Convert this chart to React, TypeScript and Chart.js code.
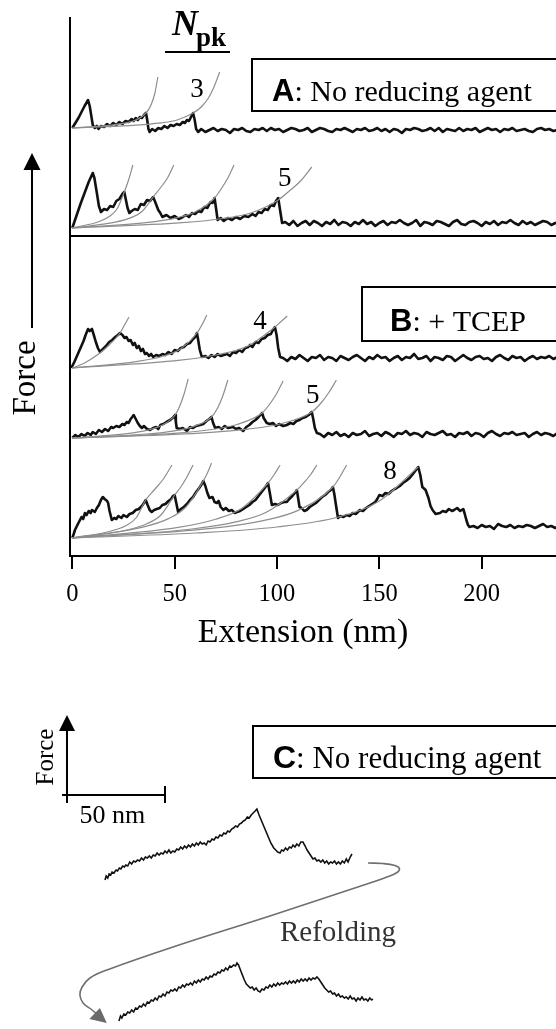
import React, { useEffect, useRef } from "react";
import { Chart, registerables } from "chart.js";
Chart.register(...registerables);

const SERIF = "'Liberation Serif', 'Times New Roman', serif";
const SANS = "'Liberation Sans', Arial, sans-serif";

// ---------- main panel axis ----------
const X_TICKS = [0, 50, 100, 150, 200];
const X_MIN = -1.12;
const X_MAX = 236.3;
const Y_MIN = 0;
const Y_MAX = 538;
const SEPARATOR_Y = 320;
const TAIL_STEP = 2;

// vertical offsets of each stacked trace (force baseline)
const OFFSET_A1 = 428;
const OFFSET_A2 = 328;
const OFFSET_B1 = 188;
const OFFSET_B2 = 118;
const OFFSET_B3 = 18;

// ---------- traces: [extension nm, force] ----------
const A1_MAIN = [[0,0],[1.5,5],[3,10],[4.5,16],[6,22],[7.7,28],[8.5,22],[9.3,12],[10,3],[11,0],[12,2],[12.8,-1],[14,2],[15.5,1],[17,4],[18.5,2],[20,5],[21.5,3],[23,6],[24.5,4],[26,7],[27.5,6],[29,9],[30,7],[31,10],[32,8],[33,11],[34,10],[35,13],[36,15],[36.6,8],[37.2,-1],[37.8,-4],[39,-1],[40.5,-3],[42,0],[43.5,-1],[45,2],[46.5,0],[48,3],[49.5,2],[51,4],[52.5,3],[54,6],[55,5],[56,8],[57,7],[58,11],[59,15],[59.8,8],[60.5,-1],[61.5,-4]];
const A1_TAIL_START = 63;
const A1_TAIL = [-1,-4,-2,0,-3,-1,-2,-5,-1,-2,0,-3,-4,-1,-2,0,-3,0,-2,-1,-4,-2,0,-1,-3,-2,0,-4,-2,0,-1,-3,-4,-1,-2,0,-2,-4,-1,-2,0,-3,-2,0,-3,-1,-4,-1,-2,-5,-1,-2,0,-1,-3,-2,0,-3,0,-4,-1,-2,-3,0,-3,-1,-2,0,-4,-2,0,-2,-1,-4,-1,-2,0,-3,-2,-1,-3,-4,-1,0,-2,-1,-3,-2,-1,-2];

const A2_MAIN = [[0,0],[2,12],[4,24],[6,35],[8,46],[10,55],[10.8,50],[12,35],[13,22],[14,16],[15.5,19],[17,18],[18.5,22],[20,21],[21.5,27],[23,29],[24.5,34],[25.4,36],[26,30],[27,20],[27.9,15],[29,17],[30.5,19],[32,18],[33.5,24],[35,23],[36.5,28],[38,27],[39.5,31],[40.5,26],[42,18],[43,15],[44,11],[46,13],[48,10],[50,12],[52,9],[54,11],[55.5,13],[57,11],[58.5,15],[60,14],[61.5,17],[63,16],[64.5,21],[66,20],[67.5,26],[68.5,25],[69.5,30],[70.2,20],[71,8],[72.5,10],[74,7],[76,10],[78,8],[80,11],[82,9],[84,12],[86,11],[88,14],[89.5,12],[91,16],[92.5,15],[94,19],[95.5,18],[97,23],[98.5,22],[99.5,27],[100.6,30],[101.5,18],[102.5,5]];
const A2_TAIL_START = 104;
const A2_TAIL = [6,3,7,2,5,7,3,7,5,2,6,4,8,3,6,5,2,6,4,8,4,6,2,5,7,3,6,5,8,5,3,5,8,2,6,5,3,7,6,4,2,6,8,4,3,6,7,5,2,6,4,7,3,6,5,8,5,3,7,4,6,3,5,7,6,3,5,6];

const B1_MAIN = [[-0.5,0],[1,6],[2.5,13],[4,20],[5.5,27],[6.5,33],[7.7,39],[8.5,37],[9.6,39],[10.5,33],[11.5,26],[12.5,20],[13.5,16],[15,19],[16.5,22],[18,26],[19.5,28],[21,31],[22.3,33],[23.3,35],[24.5,33],[25.5,30],[26.5,31],[27.5,27],[28.5,28],[29.6,23],[30.5,25],[31.5,20],[32.5,22],[33.5,17],[34.5,19],[35.5,14],[36.4,15],[37.5,12],[38.5,14],[39.5,11],[41,13],[42.5,12],[44,14],[45.5,13],[47,16],[48.5,14],[50,18],[51.5,17],[53,20],[54.5,21],[56,24],[57.5,25],[59,29],[60,31],[60.9,35],[61.5,28],[62.3,18],[63.3,11],[65,12],[66.5,10],[68,13],[69.5,11],[71,14],[72.5,12],[74,13],[75.6,14],[77,12],[78.5,16],[80,15],[81.5,18],[83,16],[84.5,20],[86,21],[86.8,23],[88,21],[89.5,26],[91,25],[92.5,29],[94,30],[95.5,33],[97,34],[98,38],[99,41],[99.8,33],[100.6,20],[101.5,11]];
const B1_TAIL_START = 103;
const B1_TAIL = [10,7,11,9,13,10,7,11,10,13,8,11,10,7,12,10,8,11,13,10,7,11,9,13,10,11,7,10,12,8,11,10,14,9,10,12,7,11,10,8,12,11,7,10,13,10,8,11,12,9,10,7,11,13,10,8,12,10,11,7,10,12,9,11,10,12,9,11];

const B2_MAIN = [[0,0],[1.5,3],[3,1],[4.5,4],[6,2],[7.5,5],[9,3],[10,6],[11.5,4],[13,8],[14.5,6],[16,9],[17.5,7],[19,11],[20,10],[21.5,12],[23,11],[24.5,14],[25.5,13],[26.6,16],[27.5,15],[28.5,19],[29.3,21],[30,23],[31,19],[32,15],[33,12],[34,10],[35,12],[36.5,9],[38,8],[39.5,10],[41,11],[42,9],[43,13],[44.5,14],[46,16],[47.8,18],[49,20],[50.2,23],[50.6,16],[51,10],[52.5,9],[54,10],[56,7],[57.5,11],[59,10],[60.5,12],[62.4,13],[64,14],[65.5,17],[67,19],[68,21],[68.8,15],[69.8,10],[71.5,11],[73,9],[74.5,12],[76,10],[78.5,11],[80,9],[81.5,10],[83.5,7],[85,11],[86.5,13],[88,16],[89.5,18],[91,21],[92.7,25],[93.5,20],[95,15],[96.5,14],[98,15],[99.5,12],[101,14],[103,12],[104.8,13],[106.5,15],[108,14],[109.5,17],[111,18],[112.5,20],[114,21],[115.5,23],[117,26],[117.8,18],[118.5,10],[119.5,5]];
const B2_TAIL_START = 121;
const B2_TAIL = [4,1,5,3,6,2,4,1,5,3,4,7,2,4,5,2,6,4,1,5,4,7,3,5,4,1,6,4,3,5,7,3,4,1,5,4,6,2,5,4,1,5,7,4,2,5,4,6,3,4,5,1,4,6,3,5,4,2,5];

const B3_MAIN = [[0,0],[0.7,4],[1.3,8],[2.5,13],[3.5,17],[4.5,21],[5.3,19],[6.2,25],[7,23],[8,27],[9,25],[9.6,28],[10.3,27],[11,26],[12,30],[13,33],[14,38],[14.9,41],[15.8,39],[17,37],[17.5,35],[18.2,27],[19.3,18],[20.5,20],[21.5,19],[22.5,22],[24,20],[25,23],[26.6,21],[28,24],[29.5,25],[31,28],[32.5,29],[34,32],[35,35],[35.9,38],[36.8,33],[37.8,28],[38.8,26],[40,28],[41.3,29],[42.7,30],[44,33],[45.5,34],[47,37],[48.3,39],[49.2,42],[50,43],[50.8,35],[51.7,26],[53,29],[54.5,31],[56,34],[57.5,38],[59,41],[60.5,46],[62,50],[63,53],[64,57],[65,52],[66,45],[67,40],[68.5,41],[69.5,36],[70.6,35],[71.5,37],[72.5,31],[73.8,28],[75,30],[76.5,27],[78,28],[79.3,25],[80.5,26],[82,27],[83.5,29],[85,31],[86.5,33],[88,36],[89.5,38],[91,42],[92.5,46],[94,50],[95,53],[95.6,55],[96.5,45],[97.5,33],[99,34],[100.5,33],[102,35],[103.5,36],[104.8,36],[106,39],[107.5,42],[108.7,45],[109.7,48],[110.4,39],[111,31],[112,30],[113.3,27],[114.5,28],[116,31],[117.5,33],[119,35],[120.5,38],[122,41],[123.5,43],[125,46],[126.3,48],[127.3,51],[128,44],[128.8,33],[129.8,20],[131,22],[132.5,21],[134,23],[135.5,22],[137,25],[138.5,24],[140.5,28],[142,27],[143.5,30],[145,32],[146.5,34],[148,36],[149,39],[150,43],[151.5,42],[153,45],[154.5,44],[156,47],[157.5,49],[158.5,50],[160,52],[161.5,55],[163,57],[164.8,60],[166,63],[167.5,67],[169,71],[170,63],[171,51],[172.6,48],[174,40],[175,32],[176,28],[177.5,24],[179.6,25],[181,27],[182.5,26],[184,29],[185.5,27],[186.5,28],[188,30],[189.5,27],[191,29],[191.6,25],[192.5,18],[193.3,13],[194,11]];
const B3_TAIL_START = 196;
const B3_TAIL = [12,10,13,11,12,9,14,12,11,13,10,12,11,13,12,10,12,14,11,12,10,13];

// ---------- worm-like-chain fit curves (gray) ----------
const A1_FITS = [
  [[0,0],[19.2,2.9],[26.4,5.1],[31.2,8.1],[36,15],[38.4,22.7],[40.3,34.5],[41.8,51]],
  [[0,0],[31.4,2.8],[43.2,5.1],[51.2,8],[59,15],[63,21],[66.5,30],[69,40],[72,56]],
];
const A2_FITS = [
  [[0,0],[13.5,6.8],[18.6,12.3],[22,19.5],[25.4,36],[27.5,48],[29.6,63]],
  [[0,0],[21,5.8],[29,10.6],[34.2,16.8],[39.5,31],[43,40],[46.5,50],[49.6,63]],
  [[0,0],[37,5.6],[51,10.2],[60.2,16.2],[69.5,30],[73,40],[76,50],[79,63]],
  [[0,0],[53.6,5.3],[73.7,9.5],[87.2,15],[100.6,28],[106,37],[111.5,47],[117,61]],
];
const B1_FITS = [
  [[0,0],[6,5],[13.5,15],[18,23],[23.3,35],[25.5,43],[27.7,51]],
  [[0,0],[32,6.6],[44.6,12],[52.8,19],[60.9,35],[63.3,43],[65.7,53]],
  [[0,0],[52.8,7.8],[72.6,14],[85.8,22],[99,41],[102,46.5],[105,52]],
];
const B2_FITS = [
  [[0,0],[26.8,4.3],[36.8,7.8],[43.5,12.4],[50.2,23],[52.5,32],[54.6,44],[56.6,59]],
  [[0,0],[36.3,4],[49.9,7.2],[59,11.4],[68,21],[71,30],[73.5,42],[76,58]],
  [[0,0],[49.4,4.7],[68,8.5],[80.4,13.5],[92.7,25],[96.5,34],[100,45],[103,57]],
  [[0,0],[62.4,4.9],[85.8,8.9],[101.4,14],[117,26],[121.5,35],[125.5,46],[129,58]],
];
const B3_FITS = [
  [[0,0],[19,7],[26.3,12.5],[31.1,20],[35.9,38],[40,48],[44.5,59],[48.7,73]],
  [[0,0],[26.7,8],[36.7,14.5],[43.3,23],[50,43],[53,51],[56,61],[59,73]],
  [[0,0],[34,10.7],[47,19.4],[55.5,31],[64,57],[66,65],[68,75]],
  [[0,0],[51,10.3],[70,18.7],[82.9,29.8],[95.6,55],[98.5,63],[101.5,73]],
  [[0,0],[58.5,9],[80.4,16.3],[95,26],[109.7,48],[113,55],[116.3,63],[119.5,73]],
  [[0,0],[67.9,9.6],[93.3,17.4],[110.3,27.6],[127.3,51],[130.7,61],[134,73]],
  [[0,0],[60,5],[100,11],[130,21],[150,37],[169,71]],
];

// ---------- peak-count labels ----------
const PEAK_LABELS = ["3", "5", "4", "5", "8"];
const PEAK_LABEL_X = [60.9, 103.8, 91.7, 117.5, 155.2];
const PEAK_LABEL_F = [38, 49, 46, 42, 66];
const PEAK_LABEL_OFFSETS = [OFFSET_A1, OFFSET_A2, OFFSET_B1, OFFSET_B2, OFFSET_B3];

// ---------- panel C ----------
const C_X_MIN = -34.18;
const C_X_MAX = 249.5;
const C_Y_MIN = -234;
const C_Y_MAX = 115;
const C_SCALEBAR_NM = 50;
const C_UNFOLD_1 = [[19.4,-85],[20,-81],[20.8,-83],[21.5,-79],[22.3,-80],[23,-77],[24,-78],[25,-75],[25.8,-76],[26.7,-73],[27.5,-74],[28.4,-71],[29.3,-72],[30,-70],[31,-71],[32,-67],[33,-69],[34,-66],[35,-67],[36,-65],[37,-66],[38,-63],[39,-65],[40,-62],[41,-63],[42,-61],[43,-63],[44,-60],[45,-61],[46,-58],[47,-60],[48,-58],[49,-59],[50,-56],[51,-58],[52,-55],[53,-58],[54,-56],[55,-57],[56,-54],[57,-55],[58,-52],[59,-54],[60,-51],[61,-53],[62,-50],[63,-52],[64,-49],[65,-51],[66,-48],[67,-50],[68,-47],[69,-49],[70,-48],[71,-50],[72,-46],[73,-47],[74,-44],[75,-45],[76,-42],[77,-43],[78,-40],[79,-41],[80,-38],[81,-39],[82,-36],[83,-37],[84,-34],[85,-33],[86,-31],[87,-32],[88,-29],[89,-28],[90,-26],[91,-25],[92,-22],[93,-23],[94,-20],[95,-18],[96,-16],[96.9,-14],[98,-20],[99.5,-27],[101,-34],[102.5,-41],[104,-48],[105.5,-53],[106.5,-55],[107.5,-57],[108.7,-58],[109.5,-55],[110.5,-56],[111.5,-53],[112.5,-55],[113.5,-52],[114.5,-53],[115.3,-50],[116.3,-52],[117.3,-49],[118.3,-51],[119.3,-47],[120.4,-47],[121.5,-51],[122.5,-55],[123.5,-58],[124.5,-61],[125.5,-64],[126.5,-63],[127.5,-66],[128.5,-65],[129.5,-67],[130.5,-65],[131.5,-68],[132.5,-66],[133.5,-69],[134.5,-67],[135.5,-68],[136.5,-66],[137.5,-69],[138.5,-67],[139.5,-69],[140.5,-66],[141.5,-68],[142.5,-64],[143.4,-67],[144.5,-62],[145.4,-59]];
const C_UNFOLD_2 = [[26.5,-226],[27.3,-221],[28,-223],[29,-219],[30,-220],[31,-217],[32,-218],[33,-215],[34,-217],[35,-213],[36,-214],[37,-211],[38,-212],[39,-209],[40,-211],[41,-207],[42,-208],[43,-205],[44,-206],[45,-203],[46,-205],[47,-201],[48,-202],[49,-199],[50,-201],[51,-197],[52,-198],[53,-195],[54,-196],[55,-194],[56,-196],[57,-192],[58,-193],[59,-190],[60,-192],[61,-189],[62,-190],[63,-188],[64,-190],[65,-186],[66,-188],[67,-185],[68,-187],[69,-184],[70,-185],[71,-182],[72,-184],[73,-181],[74,-182],[75,-179],[76,-180],[77,-177],[78,-178],[79,-175],[80,-176],[81,-173],[82,-175],[83,-171],[84,-172],[85,-170],[86,-171],[86.7,-168],[87.5,-170],[88.5,-175],[89.5,-180],[90.5,-185],[91.5,-189],[92.5,-191],[93.5,-193],[94.5,-192],[95.5,-195],[96.5,-193],[97.5,-196],[98.5,-197],[99.5,-194],[100.5,-195],[101.5,-192],[102.5,-193],[103.5,-190],[104.5,-192],[105.5,-189],[106.5,-191],[107.5,-188],[108.5,-190],[109.5,-188],[110.5,-189],[111.5,-187],[112.5,-189],[113.5,-186],[114.5,-188],[115.5,-186],[116.5,-188],[117.5,-185],[118.5,-187],[119.5,-184],[120.5,-186],[121.5,-184],[122.5,-186],[123.5,-183],[124.5,-185],[125.5,-183],[126.5,-184],[127.5,-182],[128.5,-184],[129.5,-187],[130.5,-190],[131.5,-193],[132.5,-195],[133.5,-197],[134.5,-196],[135.5,-199],[136.5,-198],[137.5,-201],[138.5,-199],[139.5,-202],[140.5,-201],[141.5,-203],[142.5,-202],[143.5,-204],[144.5,-201],[145.5,-204],[146.5,-203],[147.5,-206],[148.5,-203],[149.5,-205],[150.5,-202],[151.5,-205],[152.5,-204],[153.5,-206],[154.5,-203],[155.5,-205],[156.1,-204]];
const C_REFOLD_PATH = [[153.6,-68],[161.2,-68.5],[167.3,-70.5],[169.6,-73.5],[168.4,-77.5],[163.3,-82],[156.1,-87],[105.1,-120],[54.1,-152],[20.4,-175],[11.7,-183],[7.7,-192],[6.6,-200],[8.2,-208],[12.8,-215],[15.8,-220]];
const C_ARROWHEAD = [[11.4,-224],[20.3,-228],[16.8,-213]];

const BLACK = "#111";
const FIT_GRAY = "#8e8e8e";

const toPts = (arr: number[][], off: number) => arr.map(([x, f]) => ({ x, y: off + f }));
const tailPts = (start: number, vals: number[], off: number) =>
  vals.map((f, i) => ({ x: start + i * TAIL_STEP, y: off + f }));

function buildMainDatasets() {
  const ds: any[] = [];
  const groups: [number[][][], number][] = [
    [A1_FITS, OFFSET_A1], [A2_FITS, OFFSET_A2], [B1_FITS, OFFSET_B1], [B2_FITS, OFFSET_B2], [B3_FITS, OFFSET_B3],
  ];
  groups.forEach(([fits, off]) => {
    fits.forEach((f) => {
      ds.push({
        data: toPts(f, off), showLine: true, borderColor: FIT_GRAY, borderWidth: 1.2,
        pointRadius: 0, cubicInterpolationMode: "monotone", fill: false,
      });
    });
  });
  const traces: [number[][], number, number[], number][] = [
    [A1_MAIN, A1_TAIL_START, A1_TAIL, OFFSET_A1],
    [A2_MAIN, A2_TAIL_START, A2_TAIL, OFFSET_A2],
    [B1_MAIN, B1_TAIL_START, B1_TAIL, OFFSET_B1],
    [B2_MAIN, B2_TAIL_START, B2_TAIL, OFFSET_B2],
    [B3_MAIN, B3_TAIL_START, B3_TAIL, OFFSET_B3],
  ];
  traces.forEach(([main, ts, tail, off]) => {
    ds.push({
      data: [...toPts(main, off), ...tailPts(ts, tail, off)], showLine: true,
      borderColor: BLACK, borderWidth: 2.6, pointRadius: 0, tension: 0, fill: false,
      borderJoinStyle: "round",
    });
  });
  return ds;
}

function drawBox(ctx: CanvasRenderingContext2D, left: number, top: number, bottom: number,
  letter: string, rest: string, tx: number, baseline: number, size: number) {
  ctx.lineWidth = 2;
  ctx.strokeStyle = "#000";
  ctx.strokeRect(left, top, 400, bottom - top);
  ctx.fillStyle = "#000";
  ctx.textAlign = "left";
  ctx.textBaseline = "alphabetic";
  ctx.font = `bold ${size + 1}px ${SANS}`;
  ctx.fillText(letter, tx, baseline);
  const w = ctx.measureText(letter).width;
  ctx.font = `${size}px ${SERIF}`;
  ctx.fillText(rest, tx + w, baseline);
}

const mainDecor = {
  id: "mainDecor",
  afterDraw(chart: any) {
    const { ctx, chartArea, scales } = chart;
    const xs = scales.x, ys = scales.y;
    ctx.save();
    // separator between A and B
    const sy = ys.getPixelForValue(SEPARATOR_Y);
    ctx.strokeStyle = "#000";
    ctx.lineWidth = 2;
    ctx.beginPath();
    ctx.moveTo(chartArea.left, sy);
    ctx.lineTo(chartArea.right + 2, sy);
    ctx.stroke();
    // Force arrow
    ctx.beginPath();
    ctx.moveTo(32, 168);
    ctx.lineTo(32, 328);
    ctx.stroke();
    ctx.fillStyle = "#000";
    ctx.beginPath();
    ctx.moveTo(32, 153);
    ctx.lineTo(23.5, 170);
    ctx.lineTo(40.5, 170);
    ctx.closePath();
    ctx.fill();
    ctx.save();
    ctx.translate(35, 378);
    ctx.rotate(-Math.PI / 2);
    ctx.font = `33px ${SERIF}`;
    ctx.textAlign = "center";
    ctx.textBaseline = "alphabetic";
    ctx.fillText("Force", 0, 0);
    ctx.restore();
    // N_pk header
    ctx.textAlign = "left";
    ctx.textBaseline = "alphabetic";
    ctx.font = `italic bold 36px ${SERIF}`;
    ctx.fillText("N", 172, 35);
    const nw = ctx.measureText("N").width;
    ctx.font = `bold 27px ${SERIF}`;
    ctx.fillText("pk", 172 + nw - 2, 46);
    ctx.beginPath();
    ctx.moveTo(165, 52);
    ctx.lineTo(230, 52);
    ctx.stroke();
    // panel boxes
    drawBox(ctx, 252, 59, 111, "A", ": No reducing agent", 272, 101, 30);
    drawBox(ctx, 362, 287, 341, "B", ": + TCEP", 390, 331, 30);
    // peak count labels
    ctx.font = `27px ${SERIF}`;
    ctx.textAlign = "center";
    ctx.textBaseline = "middle";
    ctx.fillStyle = "#000";
    PEAK_LABELS.forEach((t, i) => {
      ctx.fillText(t, xs.getPixelForValue(PEAK_LABEL_X[i]), ys.getPixelForValue(PEAK_LABEL_OFFSETS[i] + PEAK_LABEL_F[i]));
    });
    // axis title
    ctx.font = `34px ${SERIF}`;
    ctx.textAlign = "center";
    ctx.textBaseline = "alphabetic";
    ctx.fillText("Extension (nm)", 303, 642);
    ctx.restore();
  },
};

const panelCDecor = {
  id: "panelCDecor",
  afterDraw(chart: any) {
    const { ctx, scales } = chart;
    const xs = scales.x, ys = scales.y;
    const px = (v: number) => xs.getPixelForValue(v);
    const py = (v: number) => ys.getPixelForValue(v);
    ctx.save();
    ctx.strokeStyle = "#000";
    ctx.fillStyle = "#000";
    ctx.lineWidth = 2;
    // scale bar
    const x0 = px(0), y0 = py(0);
    ctx.beginPath();
    ctx.moveTo(x0, py(-8));
    ctx.lineTo(x0, py(66));
    ctx.moveTo(px(-2.5), y0);
    ctx.lineTo(px(C_SCALEBAR_NM), y0);
    ctx.moveTo(px(C_SCALEBAR_NM), py(9));
    ctx.lineTo(px(C_SCALEBAR_NM), py(-8));
    ctx.stroke();
    ctx.beginPath();
    ctx.moveTo(x0, py(80));
    ctx.lineTo(x0 - 8, py(64));
    ctx.lineTo(x0 + 8, py(64));
    ctx.closePath();
    ctx.fill();
    ctx.font = `26px ${SERIF}`;
    ctx.textAlign = "center";
    ctx.textBaseline = "alphabetic";
    ctx.fillText(`${C_SCALEBAR_NM} nm`, px(C_SCALEBAR_NM * 0.464), 143);
    ctx.save();
    ctx.translate(53, 77);
    ctx.rotate(-Math.PI / 2);
    ctx.font = `25px ${SERIF}`;
    ctx.fillText("Force", 0, 0);
    ctx.restore();
    // box C
    drawBox(ctx, 253, 46, 98, "C", ": No reducing agent", 273, 88, 31);
    // refolding arrowhead
    ctx.fillStyle = "#6a6a6a";
    ctx.beginPath();
    C_ARROWHEAD.forEach(([x, y], i) => (i ? ctx.lineTo(px(x), py(y)) : ctx.moveTo(px(x), py(y))));
    ctx.closePath();
    ctx.fill();
    ctx.fillStyle = "#333";
    ctx.font = `29px ${SERIF}`;
    ctx.textAlign = "left";
    ctx.fillText("Refolding", 280, 261);
    ctx.restore();
  },
};

export default function App() {
  const mainRef = useRef<HTMLCanvasElement>(null);
  const cRef = useRef<HTMLCanvasElement>(null);

  useEffect(() => {
    document.body.style.margin = "0";
    const main = new Chart(mainRef.current!, {
      type: "scatter",
      data: { datasets: buildMainDatasets() },
      options: {
        animation: false,
        responsive: false,
        maintainAspectRatio: false,
        layout: { padding: { top: 18, left: 0, right: 0, bottom: 0 } },
        plugins: { legend: { display: false }, tooltip: { enabled: false } },
        elements: { point: { radius: 0 } },
        scales: {
          x: {
            type: "linear", min: X_MIN, max: X_MAX,
            afterFit: (s: any) => { s.height = 124; },
            afterBuildTicks: (s: any) => { s.ticks = X_TICKS.map((v) => ({ value: v })); },
            ticks: { font: { family: SERIF, size: 24.5 }, color: "#000", padding: 11, maxRotation: 0, autoSkip: false },
            grid: { drawOnChartArea: false, drawTicks: true, tickLength: 13, lineWidth: 2, color: "#000" },
            border: { display: true, color: "#000", width: 2 },
          },
          y: {
            type: "linear", min: Y_MIN, max: Y_MAX,
            afterFit: (s: any) => { s.width = 70; },
            ticks: { display: false },
            grid: { display: false },
            border: { display: true, color: "#000", width: 2 },
          },
        },
      } as any,
      plugins: [mainDecor],
    });

    const panelC = new Chart(cRef.current!, {
      type: "scatter",
      data: {
        datasets: [
          { data: toPts(C_UNFOLD_1, 0), showLine: true, borderColor: BLACK, borderWidth: 1.6, pointRadius: 0, tension: 0 },
          { data: toPts(C_UNFOLD_2, 0), showLine: true, borderColor: BLACK, borderWidth: 1.6, pointRadius: 0, tension: 0 },
          { data: toPts(C_REFOLD_PATH, 0), showLine: true, borderColor: "#6f6f6f", borderWidth: 1.6, pointRadius: 0, tension: 0.4 },
        ],
      },
      options: {
        animation: false,
        responsive: false,
        maintainAspectRatio: false,
        layout: { padding: 0 },
        plugins: { legend: { display: false }, tooltip: { enabled: false } },
        scales: {
          x: { type: "linear", display: false, min: C_X_MIN, max: C_X_MAX },
          y: { type: "linear", display: false, min: C_Y_MIN, max: C_Y_MAX },
        },
      } as any,
      plugins: [panelCDecor],
    });

    return () => {
      main.destroy();
      panelC.destroy();
    };
  }, []);

  return (
    <div style={{ position: "relative", width: 556, height: 1029, background: "#fff", overflow: "hidden" }}>
      <canvas ref={mainRef} width={556} height={680} style={{ position: "absolute", left: 0, top: 0, width: 556, height: 680 }} />
      <canvas ref={cRef} width={556} height={349} style={{ position: "absolute", left: 0, top: 680, width: 556, height: 349 }} />
    </div>
  );
}
